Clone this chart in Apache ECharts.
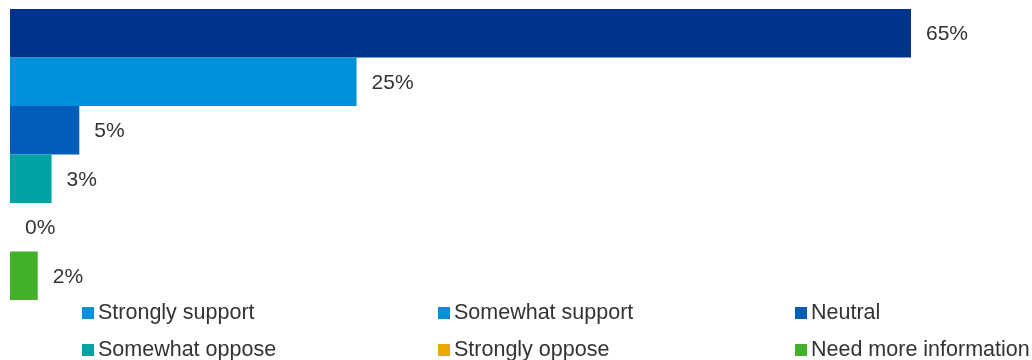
<!DOCTYPE html>
<html><head><meta charset="utf-8">
<script src="https://cdn.jsdelivr.net/npm/echarts@6/dist/echarts.min.js"></script>
<style>html,body{margin:0;padding:0;background:#fff}#c{width:1032px;height:360px}</style>
</head><body><div id="c"></div>
<script>
const categories = ['Strongly support','Somewhat support','Neutral','Somewhat oppose','Strongly oppose','Need more information'];
const values = [65, 25, 5, 3, 0, 2];
const barColors = ['#00338D','#0091DA','#005EB8','#00A3A1','#EAAA00','#43B02A'];
const legendColors = ['#0091DA','#0091DA','#005EB8','#00A3A1','#EAAA00','#43B02A'];

const FONT = 'Arial, "Liberation Sans", sans-serif';
const series = categories.map((name, i) => ({
  name, type: 'bar', stack: 'all',
  barCategoryGap: '0%',
  itemStyle: { color: barColors[i] },
  label: { show: true, position: 'right', distance: 15, offset: [0, 1], formatter: p => p.value + '%',
           color: '#333', fontSize: 21, fontFamily: FONT },
  data: values.map((v, j) => j === i ? v : '-')
}));
const legendPos = [[82,301],[438,301],[795,301],[82,338],[438,338],[795,338]];
const legends = categories.map((name, i) => ({
  left: legendPos[i][0], top: legendPos[i][1], padding: 0,
  icon: 'rect', itemWidth: 12, itemHeight: 12, itemGap: 0,
  selectedMode: false,
  textStyle: { color: '#333', fontSize: 21.5, lineHeight: 24, fontFamily: FONT, padding: [0,0,0,-1] },
  data: [{ name, itemStyle: { color: legendColors[i] } }]
}));
const chart = echarts.init(document.getElementById('c'));
chart.setOption({
  animation: false,
  grid: { left: 10, top: 9, height: 291, width: 901, containLabel: false },
  xAxis: { type: 'value', min: 0, max: 65, show: false },
  yAxis: { type: 'category', data: categories, inverse: true, show: false },
  legend: legends,
  series
});
</script></body></html>
